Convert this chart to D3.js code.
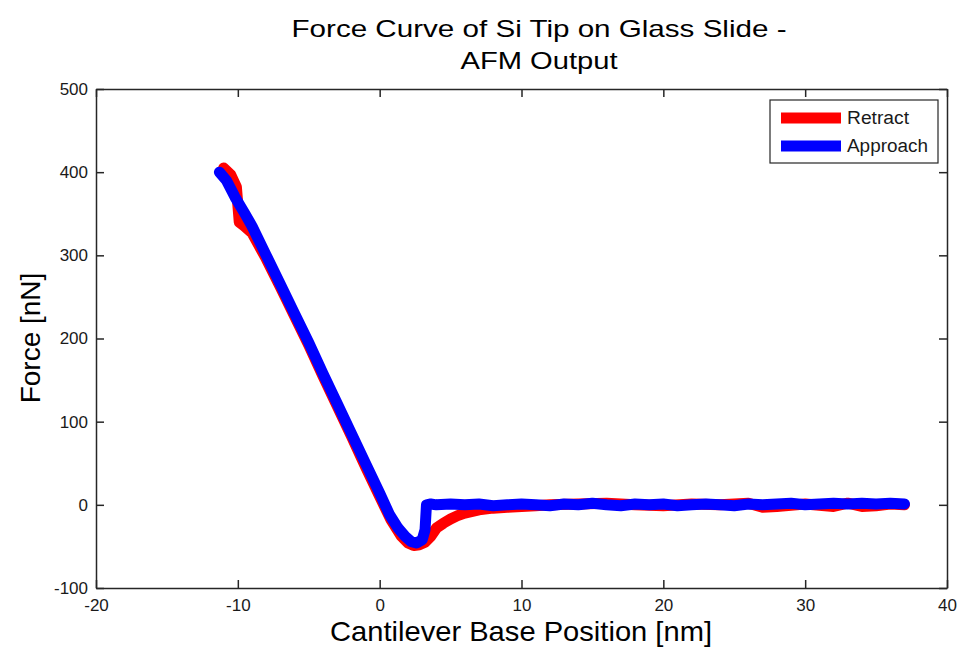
<!DOCTYPE html>
<html><head><meta charset="utf-8">
<script src="https://cdn.jsdelivr.net/npm/d3@7"></script>
<style>body{margin:0;background:#fff}svg{display:block}text{font-family:"Liberation Sans",Arial,sans-serif}</style>
</head><body>
<svg id="c" width="959" height="653"></svg>
<script>
const title = ["Force Curve of Si Tip on Glass Slide -", "AFM Output"];
const xLabel = "Cantilever Base Position [nm]";
const yLabel = "Force [nN]";
const xTicks = [-20, -10, 0, 10, 20, 30, 40];
const yTicks = [-100, 0, 100, 200, 300, 400, 500];
const seriesNames = ["Retract", "Approach"];
const seriesColors = ["#ff0000", "#0000ff"];

const retractX = [-11.0,-10.5,-10.1,-9.9,-9.6,-9.0,-8.0,-7.0,-6.0,-5.0,-4.0,-3.0,-2.0,-1.0,0.0,0.8,1.5,2.0,2.4,2.8,3.2,3.6,4.0,4.5,5.0,5.5,6.0,7.0,8.0,9.0,10.0,11.0,12.0,14.0,16.0,18.0,20.0,22.0,24.0,26.0,27.0,28.0,30.0,32.0,33.0,34.0,35.0,36.0,37.0];
const retractY = [405,397,382,340,336,327,296,262,227,192,155,119,83,46,10,-18,-37,-46,-49,-48,-45,-38,-28,-22,-17,-13,-10,-6,-4,-3,-2,-1,0,1,2,0,-1,1,0,2,-3,-2,1,-2,2,-2,-1,1,0];
const approachX = [-11.3,-10.8,-10.2,-9.5,-9.0,-8.0,-7.0,-6.0,-5.0,-4.0,-3.0,-2.0,-1.0,0.0,0.7,1.3,1.8,2.2,2.6,3.0,3.2,3.3,3.6,4.0,5.0,6.0,7.0,8.0,9.0,10.0,11.0,12.0,13.0,14.0,15.0,16.0,17.0,18.0,19.0,20.0,21.0,22.0,23.0,24.0,25.0,26.0,27.0,28.0,29.0,30.0,31.0,32.0,33.0,34.0,35.0,36.0,37.0];
const approachY = [400,390,370,350,335,300,265,230,195,158,122,86,50,14,-12,-28,-38,-44,-46,-42,-30,0,1,0,1,0,1,-1,0,1,0,-1,1,0,2,0,-1,1,0,1,-1,0,1,0,-1,1,0,1,2,0,1,2,1,2,1,2,1];

const svg = d3.select("#c");
const L = 96, R = 947, T = 89, B = 588;
const x = d3.scaleLinear().domain([-20, 40]).range([L, R]);
const y = d3.scaleLinear().domain([-100, 500]).range([B, T]);

// title
svg.append("text").attr("x", 539).attr("y", 37).attr("text-anchor", "middle")
  .attr("font-size", 24).attr("fill", "#000")
  .attr("textLength", 495).attr("lengthAdjust", "spacingAndGlyphs").text(title[0]);
svg.append("text").attr("x", 539).attr("y", 69).attr("text-anchor", "middle")
  .attr("font-size", 24).attr("fill", "#000")
  .attr("textLength", 157).attr("lengthAdjust", "spacingAndGlyphs").text(title[1]);

// data lines
const line = d3.line().x(d => x(d[0])).y(d => y(d[1]));
const retract = retractX.map((v, i) => [v, retractY[i]]);
const approach = approachX.map((v, i) => [v, approachY[i]]);
[retract, approach].forEach((data, i) => {
  svg.append("path").datum(data).attr("d", line).attr("fill", "none")
    .attr("stroke", seriesColors[i]).attr("stroke-width", 11)
    .attr("stroke-linejoin", "round").attr("stroke-linecap", "round");
});

// axes (box with inward ticks)
const axColor = "#262626";
const fmt = d => String(d);
const gB = svg.append("g").attr("transform", `translate(0,${B})`)
  .call(d3.axisBottom(x).tickValues(xTicks).tickSizeInner(-8).tickSizeOuter(0).tickPadding(11).tickFormat(fmt));
const gT = svg.append("g").attr("transform", `translate(0,${T})`)
  .call(d3.axisTop(x).tickValues(xTicks).tickSizeInner(-8).tickSizeOuter(0).tickFormat(""));
const gL = svg.append("g").attr("transform", `translate(${L},0)`)
  .call(d3.axisLeft(y).tickValues(yTicks).tickSizeInner(-8).tickSizeOuter(0).tickPadding(8).tickFormat(fmt));
const gR = svg.append("g").attr("transform", `translate(${R},0)`)
  .call(d3.axisRight(y).tickValues(yTicks).tickSizeInner(-8).tickSizeOuter(0).tickFormat(""));
[gB, gT, gL, gR].forEach(g => {
  g.select(".domain").attr("stroke", axColor).attr("stroke-width", 1.5);
  g.selectAll(".tick line").attr("stroke", axColor).attr("stroke-width", 1.5);
  g.selectAll(".tick text").attr("font-size", 17).attr("fill", "#1a1a1a")
    .attr("font-family", "'Liberation Sans',Arial,sans-serif");
});

// axis labels
svg.append("text").attr("x", 521).attr("y", 641).attr("text-anchor", "middle")
  .attr("font-size", 28).attr("fill", "#000")
  .attr("textLength", 382).attr("lengthAdjust", "spacingAndGlyphs").text(xLabel);
svg.append("text").attr("transform", "translate(40,338) rotate(-90)").attr("text-anchor", "middle")
  .attr("font-size", 28).attr("fill", "#000").text(yLabel);

// legend
const lg = svg.append("g");
lg.append("rect").attr("x", 770).attr("y", 100).attr("width", 168).attr("height", 63)
  .attr("fill", "#fff").attr("stroke", axColor).attr("stroke-width", 1.2);
seriesNames.forEach((n, i) => {
  const yy = 118 + i * 28;
  lg.append("line").attr("x1", 781).attr("x2", 841).attr("y1", yy).attr("y2", yy)
    .attr("stroke", seriesColors[i]).attr("stroke-width", 11);
  lg.append("text").attr("x", 847).attr("y", yy + 6).attr("font-size", 18).attr("fill", "#1a1a1a")
    .attr("textLength", i === 0 ? 62 : 81).attr("lengthAdjust", "spacingAndGlyphs").text(n);
});
</script>
</body></html>
